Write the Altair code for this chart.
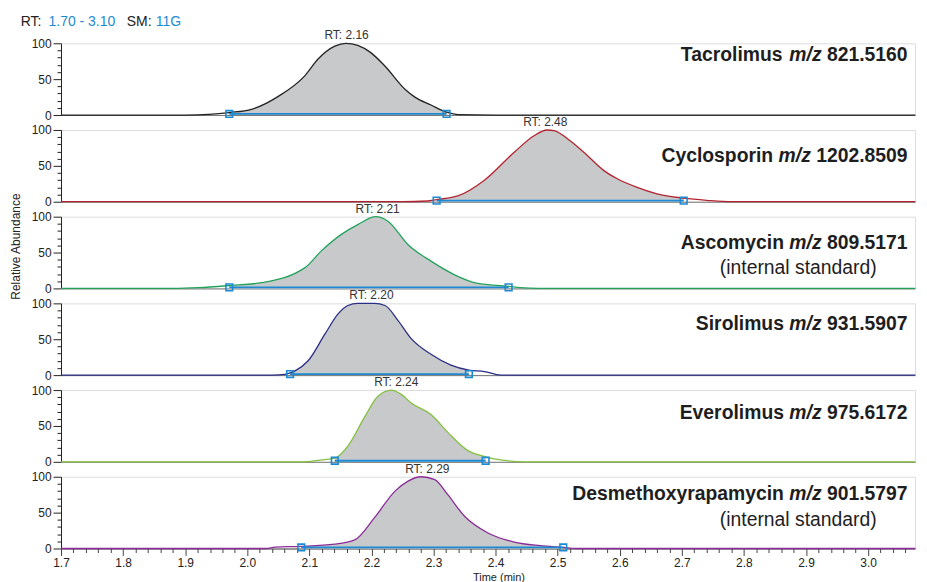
import altair as alt
import pandas as pd

# ---------------- data ----------------
compounds = ["Tacrolimus", "Cyclosporin", "Ascomycin", "Sirolimus", "Everolimus", "Desmethoxyrapamycin"]
mz_values = ["821.5160", "1202.8509", "809.5171", "931.5907", "975.6172", "901.5797"]
internal_standard = [False, False, True, False, False, True]
rt_apex = [2.16, 2.48, 2.21, 2.20, 2.24, 2.29]
peak_start = [1.971, 2.305, 1.971, 2.069, 2.141, 2.087]
peak_end = [2.321, 2.703, 2.421, 2.357, 2.384, 2.509]
baseline_level = [1.5, 1.5, 1.5, 1.5, 1.5, 1.5]

tacrolimus_t = [1.70, 1.90, 1.938, 1.971, 2.007, 2.05, 2.093, 2.114, 2.141, 2.159, 2.178, 2.199, 2.222, 2.254, 2.27, 2.296, 2.321, 2.34, 2.40, 3.076]
tacrolimus_v = [0, 0, 1, 3.5, 8, 26, 55, 78, 96, 100, 97, 87, 68, 36, 25, 14, 4, 0.5, 0, 0]

cyclosporin_t = [1.70, 2.25, 2.29, 2.305, 2.339, 2.382, 2.43, 2.462, 2.483, 2.494, 2.52, 2.542, 2.575, 2.596, 2.628, 2.66, 2.703, 2.74, 2.78, 3.076]
cyclosporin_v = [0, 0, 1, 3, 8, 30, 69, 92, 100, 99, 85, 69, 43, 32, 20, 11, 5, 2, 0, 0]

ascomycin_t = [1.70, 1.88, 1.921, 1.971, 2.023, 2.093, 2.119, 2.151, 2.178, 2.207, 2.226, 2.259, 2.296, 2.334, 2.371, 2.421, 2.44, 2.47, 3.076]
ascomycin_v = [0, 0, 1, 4, 8, 29, 52, 75, 89, 100, 94, 61, 38, 19, 7, 3, 1, 0, 0]

sirolimus_t = [1.70, 2.04, 2.061, 2.069, 2.077, 2.098, 2.125, 2.146, 2.162, 2.178, 2.205, 2.222, 2.243, 2.263, 2.296, 2.328, 2.357, 2.382, 2.408, 3.076]
sirolimus_v = [0, 0, 1, 3, 6, 20, 57, 85, 97, 100, 100, 97, 76, 52, 29, 14, 7, 5, 0, 0]

everolimus_t = [1.70, 2.09, 2.114, 2.141, 2.162, 2.19, 2.21, 2.232, 2.248, 2.264, 2.296, 2.323, 2.355, 2.384, 2.414, 2.446, 3.076]
everolimus_v = [0, 0, 2, 5, 22, 64, 91, 100, 94, 82, 66, 41, 16, 7, 2, 0, 0]

desmethoxy_t = [1.70, 2.03, 2.045, 2.087, 2.141, 2.173, 2.205, 2.238, 2.259, 2.28, 2.302, 2.323, 2.35, 2.387, 2.43, 2.472, 2.509, 2.53, 3.076]
desmethoxy_v = [0, 0, 2, 3, 6, 12, 43, 80, 94, 100, 96, 75, 45, 22, 9, 4, 1.5, 0, 0]

times = [tacrolimus_t, cyclosporin_t, ascomycin_t, sirolimus_t, everolimus_t, desmethoxy_t]
intens = [tacrolimus_v, cyclosporin_v, ascomycin_v, sirolimus_v, everolimus_v, desmethoxy_v]

header_parts = ["RT:", "1.70 - 3.10", "SM:", "11G"]

# ---------------- styles ----------------
trace_colors = ["#232323", "#b3232f", "#22a35b", "#2c2e86", "#84c03e", "#8a2b97"]
BLUE = "#1c8ad2"
FILL = "#c8c9cb"
FONT = "Liberation Sans"
X_END = 3.0756
W, H = 857, 72
LABEL_SIZE = 19.4
label_baseline = [18, 32, 32, 27, 29, 23]

BOLD = {"A": 722, "C": 722, "D": 722, "E": 667, "S": 667, "T": 611, "a": 556, "c": 556, "e": 556,
        "h": 611, "i": 278, "l": 278, "m": 889, "n": 611, "o": 611, "p": 611, "r": 389, "s": 556,
        "t": 333, "u": 611, "v": 556, "x": 556, "y": 556, "z": 500, "/": 278, ".": 278, " ": 278}
for d in "0123456789":
    BOLD[d] = 556


def tw(s, size=LABEL_SIZE):
    return sum(BOLD[c] for c in s) * size / 1000.0


MAJ_X = "abs(datum.value * 10 - round(datum.value * 10)) < 0.000001"
xticks = [round(1.70 + 0.02 * k, 2) for k in range(69)]


def panel(i):
    df = pd.DataFrame({"t": times[i], "v": intens[i]})
    s, e = peak_start[i], peak_end[i]
    area_df = df[(df.t >= s - 1e-9) & (df.t <= e + 1e-9)]
    last = i == len(compounds) - 1
    if last:
        xaxis = alt.Axis(values=xticks,
                         labelExpr=MAJ_X + " ? format(datum.value, '.1f') : ''",
                         tickSize={"condition": {"test": MAJ_X, "value": 7}, "value": 4},
                         title="Time (min)", titleFontSize=11, titleFontWeight="normal",
                         titleColor="#222", titlePadding=3, titleX=439,
                         labelFontSize=12, labelPadding=2, labelFlush=False, labelOverlap=False,
                         labelColor="#222", domainColor="#444", tickColor="#444", grid=False)
    else:
        xaxis = alt.Axis(labels=False, ticks=False, title=None, domainColor="#777", grid=False)
    x = alt.X("t:Q", scale=alt.Scale(domain=[1.7, X_END], nice=False, zero=False), axis=xaxis)
    yaxis = alt.Axis(values=list(range(0, 101, 10)),
                     labelExpr="datum.value % 50 === 0 ? datum.value : ''",
                     tickSize={"condition": {"test": "datum.value % 50 === 0", "value": 8}, "value": 4},
                     title=None, grid=False, labelFontSize=12, labelPadding=2, labelColor="#222",
                     domainColor="#222", tickColor="#222", labelOverlap=False)
    y = alt.Y("v:Q", scale=alt.Scale(domain=[0, 100], nice=False), axis=yaxis)

    area = alt.Chart(area_df).mark_area(color=FILL, interpolate="monotone").encode(x=x, y=y)
    line = alt.Chart(df).mark_line(color=trace_colors[i], strokeWidth=1.3, interpolate="monotone").encode(x=x, y=y)
    bdf = pd.DataFrame({"t": [s, e], "v": [baseline_level[i], baseline_level[i]]})
    base = alt.Chart(bdf).mark_line(color=BLUE, strokeWidth=1.8).encode(x=x, y=y)
    marks = alt.Chart(bdf).mark_point(shape="square", filled=False, size=45, color=BLUE,
                                      strokeWidth=1.6, opacity=1).encode(x=x, y=y)
    rdf = pd.DataFrame({"t": [rt_apex[i]], "v": [100], "label": ["RT: %.2f" % rt_apex[i]]})
    rt = alt.Chart(rdf).mark_text(dy=-8, fontSize=12, color="#333", font=FONT).encode(x=x, y=y, text="label:N")

    layers = [area, line, base, marks, rt]

    # compound label: name (bold), m/z (bold italic), number (bold), right aligned
    right = 849.5
    name, mz = compounds[i], mz_values[i]
    total = tw(name + " ") + tw("m/z ") + tw(mz)
    left = right - total
    yb = label_baseline[i]
    parts = [(name, left, "normal"), ("m/z", left + tw(name + " "), "italic"),
             (mz, left + tw(name + " ") + tw("m/z "), "normal")]
    for txt, px, style in parts:
        layers.append(
            alt.Chart(pd.DataFrame({"label": [txt]})).mark_text(
                align="left", baseline="alphabetic", fontSize=LABEL_SIZE, fontWeight="bold",
                fontStyle=style, color="#1e1e1e", font=FONT
            ).encode(x=alt.value(px), y=alt.value(yb), text="label:N"))
    if internal_standard[i]:
        layers.append(
            alt.Chart(pd.DataFrame({"label": ["(internal standard)"]})).mark_text(
                align="right", baseline="alphabetic", fontSize=LABEL_SIZE, color="#1e1e1e", font=FONT
            ).encode(x=alt.value(818.5), y=alt.value(yb + 26), text="label:N"))

    if i == 0:
        hx = [-40.5, -12.5, 66, 95]
        hc = ["#222", BLUE, "#222", BLUE]
        for txt, px, c in zip(header_parts, hx, hc):
            layers.append(
                alt.Chart(pd.DataFrame({"label": [txt]})).mark_text(
                    align="left", baseline="alphabetic", fontSize=14, color=c, font=FONT
                ).encode(x=alt.value(px), y=alt.value(-17.5), text="label:N"))
    if i == 2:
        layers.append(
            alt.Chart(pd.DataFrame({"label": ["Relative Abundance"]})).mark_text(
                align="center", baseline="middle", angle=270, fontSize=12, color="#222", font=FONT
            ).encode(x=alt.value(-45), y=alt.value(30), text="label:N"))

    return alt.layer(*layers).properties(width=W, height=H)


chart = alt.vconcat(*[panel(i) for i in range(len(compounds))], spacing=15.0, bounds="flush").properties(
    padding={"left": 1.2, "top": 5.4, "right": 0, "bottom": 0}
).configure_view(stroke=None).configure(font=FONT).configure_axis(labelFont=FONT, titleFont=FONT)

chart.save("out.html", embed_options={"renderer": "svg", "actions": False})
